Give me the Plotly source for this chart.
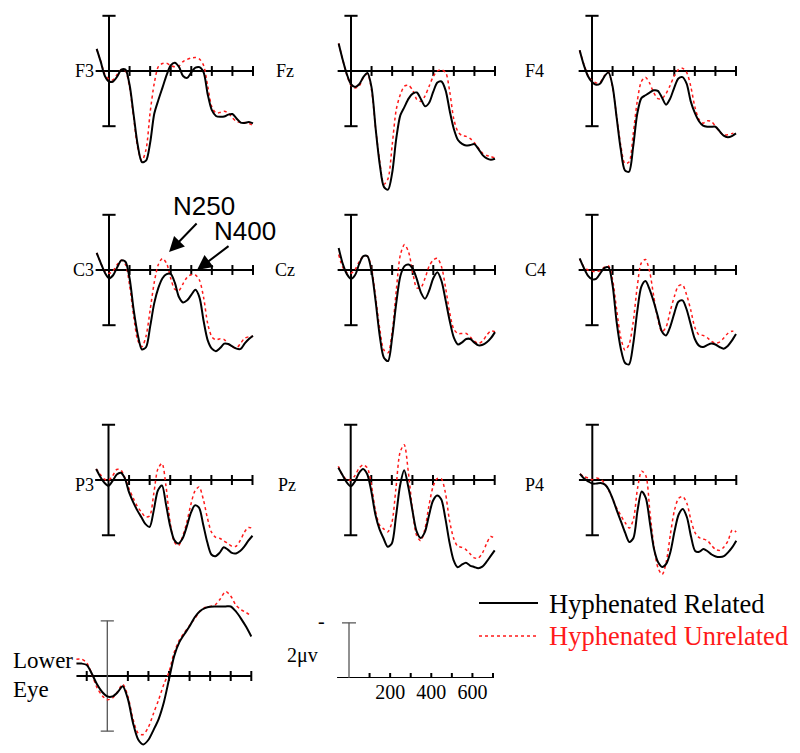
import plotly.graph_objects as go

# ---------------- data (μV, negative plotted up) ----------------
TIME_MS = list(range(-60, 701, 20))
EYE_TIME_MS = list(range(-150, 701, 25))

F3_REL = [-0.8, -0.33, 0.18, 0.38, 0.38, 0.2, -0.05, -0.05, 0.5, 1.6, 2.7, 3.3, 3.25, 2.6, 1.55, 1.05, 0.6, 0.15, -0.2, -0.3, -0.15, 0.18, 0.25, 0.05, -0.12, -0.14, 0.05, 0.85, 1.42, 1.63, 1.66, 1.65, 1.58, 1.56, 1.72, 1.87, 1.88, 1.85, 1.9]
F3_UNREL = [-0.8, -0.35, 0.12, 0.3, 0.32, 0.12, -0.05, 0.0, 0.6, 1.7, 2.8, 3.25, 2.85, 1.5, 0.45, -0.16, -0.27, -0.28, -0.2, -0.15, -0.18, -0.34, -0.42, -0.47, -0.49, -0.43, -0.2, 0.55, 1.3, 1.52, 1.5, 1.46, 1.52, 1.7, 1.83, 1.86, 1.87, 1.9, 1.97]
FZ_REL = [-1.0, -0.4, 0.12, 0.48, 0.58, 0.48, 0.22, 0.07, 0.6, 2.1, 3.4, 4.2, 4.3, 3.7, 2.45, 1.6, 1.3, 1.0, 0.82, 0.78, 1.02, 1.28, 1.15, 0.75, 0.42, 0.38, 0.7, 1.45, 2.1, 2.5, 2.64, 2.7, 2.68, 2.65, 2.83, 3.05, 3.17, 3.22, 3.18]
FZ_UNREL = [-1.0, -0.4, 0.15, 0.52, 0.62, 0.54, 0.25, 0.1, 0.7, 2.1, 3.3, 4.1, 3.9, 2.7, 1.4, 0.85, 0.55, 0.52, 0.7, 1.03, 1.1, 0.9, 0.55, 0.2, 0.0, -0.04, 0.05, 0.75, 1.75, 2.2, 2.34, 2.37, 2.45, 2.6, 2.8, 2.98, 3.06, 3.1, 3.15]
F4_REL = [-0.75, -0.22, 0.18, 0.4, 0.5, 0.45, 0.2, 0.05, 0.55, 1.7, 2.85, 3.6, 3.65, 2.75, 1.55, 0.98, 0.88, 0.78, 0.7, 0.72, 0.96, 1.22, 1.0, 0.6, 0.27, 0.22, 0.46, 1.1, 1.52, 1.82, 1.98, 2.02, 2.02, 2.02, 2.18, 2.34, 2.4, 2.36, 2.26]
F4_UNREL = [-0.75, -0.25, 0.15, 0.35, 0.43, 0.4, 0.18, 0.05, 0.6, 1.65, 2.7, 3.35, 3.3, 2.3, 1.1, 0.38, 0.23, 0.44, 0.78, 1.0, 1.0, 0.82, 0.52, 0.18, -0.05, -0.1, 0.05, 0.55, 1.3, 1.75, 1.89, 1.8, 1.83, 2.0, 2.2, 2.31, 2.31, 2.27, 2.22]
C3_REL = [-0.62, -0.25, 0.1, 0.3, 0.19, -0.1, -0.35, -0.3, 0.3, 1.45, 2.35, 2.88, 2.8, 2.05, 1.2, 0.65, 0.3, 0.15, 0.14, 0.46, 0.98, 1.18, 1.1, 0.9, 0.72, 1.0, 1.85, 2.55, 2.85, 2.94, 2.83, 2.67, 2.68, 2.77, 2.85, 2.86, 2.66, 2.5, 2.38]
C3_UNREL = [-0.62, -0.25, 0.05, 0.12, 0.03, -0.2, -0.35, -0.2, 0.55, 1.68, 2.55, 2.78, 2.4, 1.45, 0.45, -0.2, -0.42, -0.24, 0.3, 0.7, 0.74, 0.5, 0.26, 0.17, 0.18, 0.37, 1.0, 1.95, 2.42, 2.53, 2.49, 2.52, 2.68, 2.79, 2.83, 2.65, 2.47, 2.42, 2.41]
CZ_REL = [-0.8, -0.22, 0.15, 0.32, 0.18, -0.22, -0.5, -0.5, 0.05, 1.15, 2.4, 3.18, 3.3, 2.45, 1.2, 0.22, -0.14, -0.2, -0.05, 0.33, 0.82, 1.04, 0.75, 0.3, 0.08, 0.4, 1.1, 1.85, 2.45, 2.7, 2.62, 2.5, 2.5, 2.63, 2.73, 2.71, 2.62, 2.47, 2.25]
CZ_UNREL = [-0.56, -0.1, 0.1, 0.12, -0.02, -0.3, -0.5, -0.5, -0.05, 1.0, 2.15, 2.9, 3.0, 2.25, 0.75, -0.55, -0.92, -0.65, 0.08, 0.65, 0.63, 0.3, -0.14, -0.36, -0.42, -0.12, 0.65, 1.55, 2.15, 2.3, 2.3, 2.3, 2.43, 2.58, 2.66, 2.57, 2.36, 2.21, 2.24]
C4_REL = [-0.42, -0.08, 0.2, 0.33, 0.32, 0.12, -0.07, -0.1, 0.55, 1.9, 2.85, 3.36, 3.42, 2.7, 1.5, 0.6, 0.4, 0.7, 1.15, 1.68, 2.23, 2.37, 2.06, 1.57, 1.15, 1.1, 1.43, 1.97, 2.5, 2.74, 2.79, 2.72, 2.66, 2.7, 2.79, 2.85, 2.75, 2.56, 2.32]
C4_UNREL = [-0.4, -0.12, 0.0, 0.05, 0.05, 0.03, -0.1, -0.15, 0.35, 1.45, 2.45, 2.9, 2.7, 1.9, 0.6, -0.26, -0.38, 0.05, 0.95, 1.78, 2.24, 2.07, 1.5, 0.97, 0.58, 0.54, 0.9, 1.45, 2.08, 2.35, 2.37, 2.45, 2.58, 2.65, 2.61, 2.47, 2.3, 2.22, 2.24]
P3_REL = [-0.4, -0.12, 0.1, 0.21, 0.03, -0.2, -0.26, -0.05, 0.45, 0.8, 1.1, 1.35, 1.6, 1.7, 1.1, 0.38, 0.2, 0.9, 1.68, 2.18, 2.3, 2.12, 1.7, 1.2, 0.92, 1.0, 1.6, 2.25, 2.7, 2.76, 2.64, 2.44, 2.52, 2.64, 2.66, 2.57, 2.41, 2.2, 2.02]
P3_UNREL = [-0.4, -0.2, -0.03, 0.01, -0.15, -0.38, -0.36, -0.08, 0.32, 0.65, 0.95, 1.16, 1.34, 1.3, 0.5, -0.4, -0.6, 0.25, 1.55, 2.25, 2.38, 2.05, 1.55, 0.9, 0.4, 0.25, 0.67, 1.35, 1.88, 2.07, 2.11, 2.2, 2.3, 2.4, 2.4, 2.2, 1.9, 1.72, 1.75]
PZ_REL = [-0.44, -0.18, 0.08, 0.23, 0.06, -0.25, -0.4, -0.22, 0.4, 1.25, 1.78, 2.12, 2.42, 2.3, 1.33, 0.2, -0.35, 0.25, 1.1, 1.85, 2.1, 1.9, 1.3, 0.75, 0.56, 0.7, 1.38, 2.25, 2.9, 3.16, 3.07, 3.0, 3.1, 3.15, 3.2, 3.14, 2.97, 2.76, 2.55]
PZ_UNREL = [-0.5, -0.17, -0.02, 0.0, -0.15, -0.42, -0.55, -0.45, 0.15, 1.1, 1.63, 1.77, 1.88, 1.55, 0.3, -1.0, -1.28, -0.3, 1.05, 2.0, 2.2, 1.8, 0.95, 0.25, -0.05, -0.05, 0.45, 1.45, 2.1, 2.4, 2.44, 2.52, 2.67, 2.82, 2.83, 2.65, 2.32, 2.05, 2.12]
P4_REL = [-0.22, -0.05, 0.05, 0.13, 0.13, 0.11, 0.16, 0.35, 0.7, 1.12, 1.52, 1.92, 2.25, 2.1, 1.1, 0.42, 0.65, 1.55, 2.5, 2.98, 3.15, 3.03, 2.6, 1.85, 1.25, 1.05, 1.35, 2.05, 2.57, 2.6, 2.5, 2.58, 2.7, 2.77, 2.79, 2.76, 2.62, 2.44, 2.2]
P4_UNREL = [-0.22, -0.12, -0.07, -0.01, -0.07, -0.03, 0.12, 0.38, 0.7, 1.04, 1.3, 1.55, 1.74, 1.42, 0.3, -0.32, -0.16, 1.15, 2.42, 3.2, 3.42, 2.95, 1.95, 1.08, 0.66, 0.6, 0.85, 1.47, 1.92, 2.09, 2.14, 2.2, 2.37, 2.52, 2.55, 2.43, 2.2, 1.82, 1.88]
EYE_REL = [-0.45, -0.45, -0.4, -0.08, 0.3, 0.58, 0.74, 0.74, 0.59, 0.37, 0.83, 1.7, 2.3, 2.48, 2.31, 1.95, 1.55, 0.95, 0.12, -0.72, -1.22, -1.52, -1.8, -2.13, -2.35, -2.46, -2.51, -2.52, -2.52, -2.52, -2.52, -2.34, -2.08, -1.78, -1.43]
EYE_UNREL = [-0.61, -0.61, -0.48, -0.07, 0.42, 0.71, 0.86, 0.8, 0.57, 0.3, 0.73, 1.56, 2.07, 2.12, 1.85, 1.35, 0.85, 0.3, -0.15, -0.85, -1.3, -1.58, -1.83, -2.08, -2.34, -2.48, -2.52, -2.58, -2.8, -3.06, -2.9, -2.57, -2.4, -2.3, -2.18]

SCALP_TICKS = [100, 200, 300, 400, 500, 600, 700]
EYE_TICKS = [-100, 100, 200, 300, 400, 500, 600, 700]
CAL_TICK_LABELS = [200, 400, 600]
LEGEND_NAMES = ["Hyphenated Related", "Hyphenated Unrelated"]

# ---------------- layout geometry ----------------
W, H = 800, 753
PX_MS = 0.2057
PX_UV = 27.6
SERIF = "Liberation Serif"
SANS = "Liberation Sans"
BLACK = "#000000"
RED = "#ff1a1a"

# label, rel, unrel, time, x-origin px, baseline px, ymin, ymax, label right px, label y px
PANELS = [
    ("F3", F3_REL, F3_UNREL, TIME_MS, 109, 71, -2.5, 4.6, 96, 71),
    ("Fz", FZ_REL, FZ_UNREL, TIME_MS, 351, 71, -2.5, 4.6, 296, 71),
    ("F4", F4_REL, F4_UNREL, TIME_MS, 592, 71, -2.5, 4.6, 546, 71),
    ("C3", C3_REL, C3_UNREL, TIME_MS, 109, 270, -2.5, 3.7, 96, 270),
    ("Cz", CZ_REL, CZ_UNREL, TIME_MS, 351, 270, -2.5, 3.7, 297, 270),
    ("C4", C4_REL, C4_UNREL, TIME_MS, 592, 270, -2.5, 3.7, 548, 270),
    ("P3", P3_REL, P3_UNREL, TIME_MS, 108.5, 480, -2.3, 3.6, 96, 485),
    ("Pz", PZ_REL, PZ_UNREL, TIME_MS, 350.7, 480, -2.3, 3.6, 298, 485),
    ("P4", P4_REL, P4_UNREL, TIME_MS, 592.3, 480, -2.3, 3.6, 546, 485),
    ("Lower Eye", EYE_REL, EYE_UNREL, EYE_TIME_MS, 107.3, 676, -3.2, 2.7, None, None),
]
XMIN, XMAX = -175, 720

fig = go.Figure()
layout = {}
shapes = []
annotations = []


def ax_name(i, kind):
    return kind if i == 1 else f"{kind}{i}"


def domains(x0, y0, ymin, ymax):
    xd = [(x0 + XMIN * PX_MS) / W, (x0 + XMAX * PX_MS) / W]
    top = y0 + ymin * PX_UV
    bot = y0 + ymax * PX_UV
    yd = [max(0, (H - bot) / H), min(1, (H - top) / H)]
    return xd, yd


def line(i, x0, y0, x1, y1, color=BLACK, width=2, dash="solid"):
    shapes.append(dict(type="line", xref=ax_name(i, "x"), yref=ax_name(i, "y"),
                       x0=x0, y0=y0, x1=x1, y1=y1, layer="below",
                       line=dict(color=color, width=width, dash=dash)))


def text(t, px, py, size, family=SERIF, color=BLACK, anchor="left"):
    annotations.append(dict(text=t, x=px / W, y=1 - py / H, xref="paper", yref="paper",
                            xanchor=anchor, yanchor="middle", showarrow=False,
                            font=dict(family=family, size=size, color=color)))


for i, (name, rel, unrel, t, x0, y0, ymin, ymax, lx, ly) in enumerate(PANELS, start=1):
    xd, yd = domains(x0, y0, ymin, ymax)
    layout[ax_name(i, "xaxis")] = dict(domain=xd, range=[XMIN, XMAX], visible=False,
                                       anchor=ax_name(i, "y"), fixedrange=True)
    layout[ax_name(i, "yaxis")] = dict(domain=yd, range=[ymax, ymin], visible=False,
                                       anchor=ax_name(i, "x"), fixedrange=True)
    eye = name == "Lower Eye"
    # horizontal time axis
    line(i, t[0] if eye else -65, 0, 700, 0)
    for tk in (EYE_TICKS if eye else SCALP_TICKS):
        line(i, tk, -0.18, tk, 0.18)
    # vertical ±2 μV bar
    bc, bw = ("#555555", 1.3) if eye else (BLACK, 2)
    line(i, 0, -2, 0, 2, bc, bw)
    line(i, -32, -2, 32, -2, bc, bw)
    line(i, -32, 2, 32, 2, bc, bw)

    fig.add_trace(go.Scatter(x=t, y=unrel, mode="lines", name=LEGEND_NAMES[1],
                             line=dict(color=RED, width=1.5, dash="dot", shape="spline", smoothing=0.8),
                             xaxis=ax_name(i, "x"), yaxis=ax_name(i, "y"), showlegend=False,
                             hoverinfo="skip"))
    fig.add_trace(go.Scatter(x=t, y=rel, mode="lines", name=LEGEND_NAMES[0],
                             line=dict(color=BLACK, width=2, shape="spline", smoothing=0.8),
                             xaxis=ax_name(i, "x"), yaxis=ax_name(i, "y"), showlegend=False,
                             hoverinfo="skip"))
    if lx is not None:
        text(name, lx, ly, 18, anchor="right")

# Lower Eye label
text("Lower", 11, 660, 23)
text("Eye", 11, 689, 23)

# calibration panel
ci = len(PANELS) + 1
cx0, cy0 = 349, 678
xd = [(cx0 + XMIN * PX_MS) / W, (cx0 + XMAX * PX_MS) / W]
yd = [(H - cy0) / H, (H - (cy0 - 2.4 * PX_UV)) / H]
layout[ax_name(ci, "xaxis")] = dict(domain=xd, range=[XMIN, XMAX], anchor=ax_name(ci, "y"),
                                    showgrid=False, zeroline=False, showline=False, ticks="",
                                    tickvals=CAL_TICK_LABELS, ticktext=[str(v) for v in CAL_TICK_LABELS],
                                    tickfont=dict(family=SERIF, size=20, color=BLACK), fixedrange=True)
layout[ax_name(ci, "yaxis")] = dict(domain=yd, range=[0, -2.4], visible=False,
                                    anchor=ax_name(ci, "x"), fixedrange=True)
fig.add_trace(go.Scatter(x=[0, 0], y=[0, -2], mode="lines", line=dict(color="#555555", width=1.3),
                         xaxis=ax_name(ci, "x"), yaxis=ax_name(ci, "y"), showlegend=False,
                         hoverinfo="skip", cliponaxis=False))
line(ci, -34, -2, 34, -2, "#555555", 1.3)
line(ci, -58, 0, 700, 0)
for tk in SCALP_TICKS:
    line(ci, tk, -0.18, tk, 0.18)
text("2μv", 302, 655, 20, anchor="center")
text("-", 321, 621, 20, anchor="center")

# legend
shapes.append(dict(type="line", xref="paper", yref="paper", x0=479 / W, x1=538 / W,
                   y0=1 - 603 / H, y1=1 - 603 / H, line=dict(color=BLACK, width=2)))
shapes.append(dict(type="line", xref="paper", yref="paper", x0=479 / W, x1=538 / W,
                   y0=1 - 636 / H, y1=1 - 636 / H, line=dict(color=RED, width=1.5, dash="dot")))
text(LEGEND_NAMES[0], 547, 604, 26.5)
text(LEGEND_NAMES[1], 547, 636, 26.5, color=RED)

# component labels with arrows (C3 panel = axis 4)
annotations.append(dict(text="", x=292, y=-0.65, xref="x4", yref="y4", showarrow=True,
                        ax=29, ay=-30, arrowhead=2, arrowsize=1.5, arrowwidth=2, arrowcolor=BLACK))
annotations.append(dict(text="", x=428, y=0.0, xref="x4", yref="y4", showarrow=True,
                        ax=33, ay=-25, arrowhead=2, arrowsize=1.5, arrowwidth=2, arrowcolor=BLACK))
text("N250", 204, 206, 26, family=SANS, anchor="center")
text("N400", 245, 231, 26, family=SANS, anchor="center")

fig.update_layout(width=W, height=H, margin=dict(l=0, r=0, t=0, b=0),
                  paper_bgcolor="white", plot_bgcolor="rgba(0,0,0,0)",
                  showlegend=False, shapes=shapes, annotations=annotations, **layout)
fig.write_html("out.html", config={"displayModeBar": False, "staticPlot": True},
               post_script="document.body.style.margin='0px';")
